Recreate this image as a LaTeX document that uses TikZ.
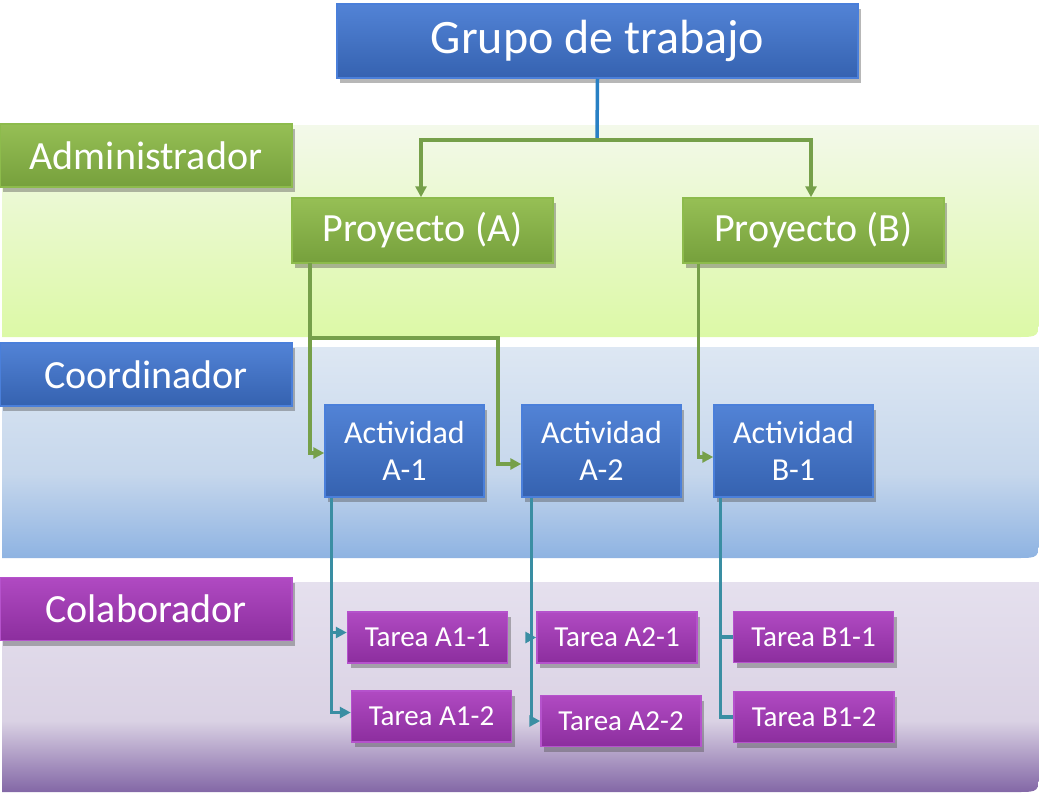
\documentclass[tikz,border=0pt]{standalone}
\usepackage{fontspec}
\setmainfont{Carlito}
\usetikzlibrary{shadows,arrows.meta}
\definecolor{gtop}{HTML}{96BF55}
\definecolor{gbot}{HTML}{76A03C}
\definecolor{gbrd}{HTML}{8DBB4C}
\definecolor{btop}{HTML}{5283D6}
\definecolor{bbot}{HTML}{3562B0}
\definecolor{bbrd}{HTML}{4A7FDA}
\definecolor{ptop}{HTML}{B04AC2}
\definecolor{pbot}{HTML}{8C2E9E}
\definecolor{pbrd}{HTML}{B552CC}
\definecolor{lineG}{HTML}{76A04A}
\definecolor{lineT}{HTML}{3A8EA3}
\definecolor{lineB}{HTML}{2880C4}
\definecolor{gb1}{HTML}{F3F9EA}
\definecolor{gb2}{HTML}{DCF9A6}
\definecolor{bb1}{HTML}{DDE7F3}
\definecolor{bb2}{HTML}{C6D7EC}
\definecolor{bb3}{HTML}{8EB3E2}
\definecolor{pb1}{HTML}{E5E0EE}
\definecolor{pb2}{HTML}{DAD2E4}
\definecolor{pb3}{HTML}{8367A6}
\pgfdeclareverticalshading{greenband}{100bp}{color(0bp)=(gb2); color(25bp)=(gb2); color(75bp)=(gb1); color(100bp)=(gb1)}
\pgfdeclareverticalshading{blueband}{100bp}{color(0bp)=(bb3); color(25bp)=(bb3); color(45bp)=(bb2); color(75bp)=(bb1); color(100bp)=(bb1)}
\pgfdeclareverticalshading{purpband}{100bp}{color(0bp)=(pb3); color(25bp)=(pb3); color(42bp)=(pb2); color(75bp)=(pb1); color(100bp)=(pb1)}
\tikzset{
  box/.style={rectangle, line width=1.5pt, text=white, align=center, inner sep=0pt,
    drop shadow={shadow xshift=3pt, shadow yshift=-5pt, opacity=0.4, fill=black!70}},
  gbox/.style={box, draw=gbrd, top color=gtop, bottom color=gbot},
  bbox/.style={box, draw=bbrd, top color=btop, bottom color=bbot},
  pbox/.style={box, draw=pbrd, top color=ptop, bottom color=pbot},
  tarea/.style={pbox, minimum width=160pt, minimum height=51pt, font=\fontsize{29}{32}\selectfont},
  activ/.style={bbox, minimum width=159pt, minimum height=92pt, font=\fontsize{32}{37}\selectfont},
  proy/.style={gbox, minimum width=261pt, minimum height=65pt, font=\fontsize{40}{46}\selectfont},
  role/.style={minimum width=292pt, minimum height=63pt, font=\fontsize{40}{46}\selectfont},
  gconn/.style={draw=lineG, line width=3.5pt},
  tconn/.style={draw=lineT, line width=3.5pt},
  tip/.style={-{Triangle[length=11pt,width=11pt]}}
}
\begin{document}
\begin{tikzpicture}[x=1pt,y=-1pt]
\useasboundingbox (0,0) rectangle (1039,801);
% bands
\path[shading=greenband] (2,125) -- (1039,125) -- (1039,315) .. controls (1039,337) .. (1017,337) -- (2,337) -- cycle;
\path[shading=blueband] (2,347) -- (1039,347) -- (1039,536) .. controls (1039,558) .. (1017,558) -- (2,558) -- cycle;
\path[shading=purpband] (2,582) -- (1039,582) -- (1039,770) .. controls (1039,792) .. (1017,792) -- (2,792) -- cycle;
% role labels
\node[gbox, role] (adm) at (146,155.5) {Administrador};
\node[bbox, role] (coo) at (146,374.5) {Coordinador};
\node[pbox, role] (col) at (146,609) {Colaborador};
% top
\node[bbox, minimum width=521pt, minimum height=74pt, font=\fontsize{48}{54}\selectfont] (grupo) at (597.5,41) {Grupo de trabajo};
\node[proy] (pa) at (422.5,230.5) {Proyecto (A)};
\node[proy] (pb) at (813.5,230.5) {Proyecto (B)};
\node[activ] (a1) at (404.5,451) {Actividad\\A-1};
\node[activ] (a2) at (601.5,451) {Actividad\\A-2};
\node[activ] (b1) at (793.5,451) {Actividad\\B-1};
\node[tarea] (t11) at (427.5,637.5) {Tarea A1-1};
\node[tarea] (t12) at (431.5,716.5) {Tarea A1-2};
\node[tarea] (t21) at (617,637.5) {Tarea A2-1};
\node[tarea] (t22) at (621,721) {Tarea A2-2};
\node[tarea] (t31) at (813.5,637) {Tarea B1-1};
\node[tarea] (t32) at (814,717) {Tarea B1-2};
% connectors
\coordinate (j0) at (597,140);
\draw[draw=lineB, line width=3.5pt] (grupo.south) -- (j0);
\draw[gconn, tip] (j0) -| ([xshift=-1.5pt]pa.north);
\draw[gconn, tip] (j0) -| ([xshift=-2.5pt]pb.north);
\coordinate (pj) at (310,338);
\draw[gconn, tip] (310,263) |- ([yshift=-2pt]a1.west);
\draw[gconn, tip] (pj) -| (498,400) |- ([yshift=-13pt]a2.west);
\draw[gconn, tip] ([xshift=16pt]pb.south west) |- ([yshift=-6pt]b1.west);
\draw[tconn, tip] ([xshift=7pt]a1.south west) |- ([yshift=5pt]t11.west);
\draw[tconn, tip] ([xshift=7pt]a1.south west) |- ([yshift=4pt]t12.west);
\draw[tconn, tip] ([xshift=10pt]a2.south west) |- (t21.west);
\draw[tconn, tip] ([xshift=10pt]a2.south west) |- (t22.west);
\draw[tconn] ([xshift=7pt]b1.south west) |- (t31.west);
\draw[tconn] ([xshift=7pt]b1.south west) |- (t32.west);
\end{tikzpicture}
\end{document}
